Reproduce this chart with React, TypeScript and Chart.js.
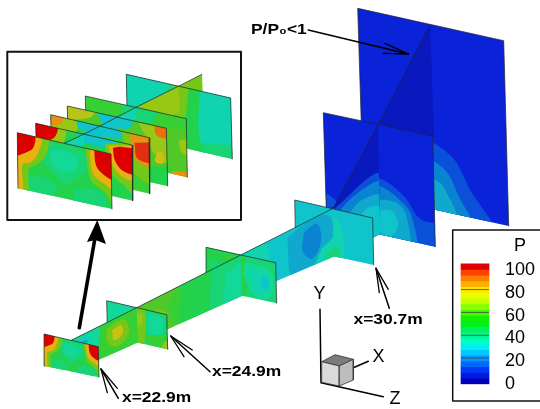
import React, { useEffect, useRef } from "react";
import {
  Chart, ScatterController, LineController, BarController,
  LineElement, PointElement, BarElement, LinearScale, Filler,
} from "chart.js";

type Blob = [number, number[]];

// ---- colour levels -------------------------------------------------------
const LEVEL_VALUES = [0,5,10,15,20,25,30,35,40,45,50,55,60,65,70,75,80,85,90,95,100];
const BAR_COLORS = ["#0000b8","#0018e0","#0038f8","#0068ff","#0098ff","#00c8ff","#00f0f0","#00ffc0","#00f890","#00f060","#00f020","#10f000","#48f800","#88ff00","#c8ff00","#e8ff00","#ffe800","#ffb000","#ff8000","#ff4000","#e00000"];
const FIELD_COLORS = ["#0a18c0","#0a22d8","#0a50d8","#0a84d0","#10a8cc","#10c4cc","#10d4b0","#12d89a","#18d474","#22d24c","#36d034","#50c828","#74c818","#98c814","#b8c418","#ccc014","#e8b010","#e89010","#e87010","#e03010","#dc0000"];
const color = (lv: number) => FIELD_COLORS[LEVEL_VALUES.indexOf(lv)];

// ---- main view: corners TL,TR,BR,BL --------------------------------------
const PANEL_BACK = [357.7,8.3, 503.7,40.7, 508.7,226, 363.5,194];
const PLANE_BACK = [378,125, 430,25, 434,136, 380,234];
const PANEL_MID = [323.3,112.7, 432.7,136, 435.3,246.7, 326.7,222.7];
const PLANE_MID = [333.3,208.3, 378,125, 380,234, 335,256];
const PANEL_FRONT = [294.7,200, 372.7,218, 373.7,265, 295.7,248];
const PLANE_A = [240.7,255, 333.3,208.3, 335,256, 241.7,296];
const PANEL_27 = [206,247.3, 275.7,262.7, 276.7,303.3, 206.7,288];
const PLANE_B = [136.7,307.7, 240.7,255, 241.7,296, 137.3,342.7];
const PANEL_249 = [106.7,300.7, 166.7,314.7, 167.7,349.3, 107.5,336];
const PLANE_C = [71.2,340.3, 136.7,307.7, 137.3,342.7, 71.8,371.7];
const PANEL_229 = [44,334, 98.3,346.7, 99,377.3, 44.7,366];

const BLOBS_BACK: Blob[] = [
  [10,[.45,.62,.63,.7,.74,.85,.92,1.08,.45,1.08]],
  [15,[.45,.72,.58,.78,.66,.9,.77,1.08,.45,1.08]],
  [20,[.45,.83,.55,.86,.66,1.08,.45,1.08]],
];
const BLOBS_PLANE_MID: Blob[] = [
  [10,[-.05,-.02,1.05,.47,1.05,1.1,-.05,1.1]],
  [15,[.0,.2,.5,.35,1.05,.55,1.05,1.1,0,1.1]],
  [20,[.2,.5,.6,.5,1.05,.67,1.05,1.1,.2,1.1]],
  [25,[.45,.72,.75,.66,1.05,.78,1.05,1.1,.4,1.1]],
];
const BLOBS_MID: Blob[] = [
  [10,[-.05,.72,.05,.75,.1,.8,.05,.85,-.05,.85]],
  [10,[.4,1.1,.45,.55,.51,.49,.72,.6,.87,.78,1.1,.8,1.1,1.1]],
  [15,[.45,1.1,.46,.6,.51,.56,.66,.63,.78,.75,.81,1.1]],
  [20,[.45,1.1,.46,.72,.51,.68,.66,.68,.74,.78,.75,1.1]],
  [25,[.45,.95,.48,.8,.6,.76,.66,.87,.58,1]],
];
const BLOBS_FRONT: Blob[] = [
  [20,[-.05,.6,.1,.5,.2,.8,.1,1.1,-.05,1.1]],
  [30,[.2,.3,.46,.15,.6,.4,.58,1.1,.25,1.1]],
  [40,[.44,.78,.5,.72,.56,.85,.55,1.1,.4,1.1]],
];
const BLOBS_A: Blob[] = [
  [30,[-.05,-.05,.25,-.05,.28,1.1,-.05,1.1]],
  [35,[-.05,.35,.1,.4,.12,1.1,-.05,1.1]],
  [20,[.5,.15,.7,.02,.95,.1,.98,.6,.85,1.1,.55,1.1]],
  [15,[.68,.2,.82,.15,.86,.55,.76,.85,.66,.6]],
  [30,[.86,.72,1.05,.6,1.05,1.1,.78,1.1]],
  [40,[.93,.85,1.05,.8,1.05,1.1,.9,1.1]],
];
const BLOBS_27: Blob[] = [
  [45,[-.05,-.05,.52,-.05,.52,1.1,-.05,1.1]],
  [40,[.05,.25,.2,.35,.25,.6,.1,.65]],
  [50,[.28,.1,.5,.1,.52,.55,.35,.5]],
  [35,[.56,.15,.92,.25,.92,.88,.7,.95,.54,.5]],
  [30,[.62,.3,.88,.38,.88,.78,.7,.82]],
  [25,[.8,.4,.88,.45,.88,.68,.78,.68]],
];
const BLOBS_B: Blob[] = [
  [55,[-.05,-.05,.4,-.05,.3,.4,.35,1.1,-.05,1.1]],
  [60,[.0,.5,.2,.35,.28,.55,.1,.95]],
  [45,[.44,-.05,.72,-.05,.7,1.1,.42,1.1]],
  [40,[.72,-.05,1.05,-.05,1.05,1.1,.72,1.1]],
  [35,[.85,.3,1.05,.2,1.05,1.1,.85,1.1]],
];
const BLOBS_249: Blob[] = [
  [35,[-.05,-.05,.4,-.05,.45,.5,-.05,.5]],
  [55,[.3,.2,.5,.15,.5,1.1,.3,1.1]],
  [60,[.47,-.05,.62,-.05,.64,.6,.58,1.1,.46,1.1]],
  [65,[.5,.15,.58,.15,.58,.45,.5,.45]],
  [35,[.68,.1,.92,.15,.9,.6,.72,.65]],
  [50,[.62,.75,.9,.65,1.05,.7,1.05,1.1,.72,1.1]],
  [65,[.94,.82,1.05,.75,1.05,1.1,.9,1.1]],
];
const BLOBS_C: Blob[] = [
  [35,[-.05,-.05,.4,-.05,.45,.4,.3,1.1,-.05,1.1]],
  [30,[.05,.1,.28,.1,.3,.7,.05,.9]],
  [20,[.16,.2,.24,.22,.23,.4,.15,.4]],
  [50,[.45,.0,.95,-.05,1.05,.6,.85,1.1,.5,1.1,.42,.5]],
  [60,[.54,.18,.8,.15,.88,.6,.7,.85,.55,.6]],
  [75,[.62,.3,.76,.28,.78,.55,.65,.62]],
];
const BLOBS_229: Blob[] = [
  [40,[.22,.06,.5,.03,.74,.12,.74,.38,.6,.62,.5,.74,.4,.62,.26,.38]],
  [35,[.35,.18,.5,.13,.64,.22,.62,.42,.5,.52,.38,.44]],
  [40,[.1,.75,.3,.7,.42,.85,.3,1.05,.1,1.05]],
  [40,[.6,.8,.8,.72,.93,.82,.9,1.05,.6,1.05]],
  [60,[-.05,-.05,.32,-.05,.3,.3,.2,.5,.12,.6,.1,1.1,-.05,1.1]],
  [80,[-.05,-.05,.25,-.05,.22,.28,.14,.48,.05,.55,.05,1.1,-.05,1.1]],
  [100,[-.05,-.05,.18,-.05,.17,.2,.09,.32,-.05,.42]],
  [60,[.72,-.05,1.05,-.05,1.05,.95,.92,.72,.78,.55]],
  [80,[.77,-.05,1.05,-.05,1.05,.66,.93,.58,.8,.42]],
  [100,[.82,-.05,1.05,-.05,1.05,.46,.93,.42,.84,.28]],
];

// ---- inset view ----------------------------------------------------------
const INSET_FRAME = [7.3,51.7, 241,51.7, 241,220, 7.3,220];
const SLICE_1 = [17.3,132.7, 111,154, 112,209, 18,188.3];
const SLICE_2 = [35.7,123.3, 132,145, 132.7,200.7, 37,179];
const SLICE_3 = [50.7,114.7, 149,137.7, 149.7,193.7, 52,171];
const SLICE_4 = [67.3,106, 166.3,128.3, 167.7,186, 68.6,164];
const SLICE_5 = [85.3,96, 186.3,118.7, 187.3,177.3, 86.6,155];
const SLICE_6 = [126.3,74.3, 230.7,98, 232.3,159, 127.6,135];
const INSET_PLANE_END = [178.5,86.2, 202,74.3, 202.7,91.7, 180,110];
const INSET_PLANE_56 = [135.8,107.4, 178.5,86.2, 180,110, 137,150];
const INSET_PLANE_45 = [116.8,117.2, 135.8,107.4, 137,150, 118,160];
const INSET_PLANE_34 = [99.9,126.2, 116.8,117.2, 118,160, 101,170];
const INSET_PLANE_23 = [83.8,134.2, 99.9,126.2, 101,170, 85,180];
const INSET_PLANE_12 = [64.2,143.3, 83.8,134.2, 85,180, 65,198];

const BLOBS_S2: Blob[] = [
  [25,[.42,-.05,.85,-.05,.78,.12,.6,.16,.45,.12]],
  [65,[-.05,-.05,.3,-.05,.28,.25,.15,.45,-.05,.6]],
  [100,[-.05,-.05,.22,-.05,.2,.16,.1,.28,-.05,.35]],
  [60,[.72,.08,1.05,.02,1.05,.9,.9,.75,.76,.55]],
  [80,[.76,.1,1.05,.05,1.05,.62,.88,.6,.79,.42]],
  [100,[.8,.13,.88,.08,1.05,.1,1.05,.5,.9,.5,.82,.35]],
];
const BLOBS_S3: Blob[] = [
  [65,[-.05,-.05,.25,-.05,.25,.2,-.05,.3]],
  [85,[-.05,-.05,.12,-.05,.1,.12,-.05,.18]],
  [25,[.25,-.05,.72,-.05,.7,.14,.3,.14]],
  [60,[.72,0,1.05,-.05,1.05,.8,.85,.7,.76,.3]],
  [85,[.8,.02,1.05,-.05,1.05,.5,.86,.45]],
  [95,[.85,.15,1.05,.1,1.05,.42,.88,.42]],
];
const BLOBS_S4: Blob[] = [
  [70,[-.05,-.05,.28,-.05,.22,.12,-.05,.22]],
  [25,[.3,-.05,.65,-.05,.62,.15,.35,.15]],
  [65,[.7,-.05,1.05,-.05,1.05,.6,.88,.5,.78,.2]],
  [90,[.88,-.05,1.05,-.05,1.05,.16,.9,.16]],
  [75,[.9,.45,.96,.45,.96,.62,.88,.62]],
  [45,[.78,.72,1.05,.72,1.05,1.1,.78,1.1]],
];
const BLOBS_S5: Blob[] = [
  [40,[.35,-.05,.7,-.05,.65,.2,.4,.2]],
  [55,[.75,.3,.9,.2,1.05,.3,1.05,.9,.85,.9]],
  [65,[.92,.4,1.05,.35,1.05,.6,.95,.6]],
  [85,[.85,.95,1.05,.92,1.05,1.1,.85,1.1]],
];
const BLOBS_S6: Blob[] = [
  [30,[-.05,-.05,.3,-.05,.42,.4,.35,.75,.15,.8,-.05,.8]],
  [40,[.42,-.05,.5,.4,.45,1.1,.3,1.1,.28,.8]],
  [60,[.46,-.05,.62,-.05,.62,.55,.52,.8,.46,.45]],
  [45,[.6,-.05,.72,-.05,.72,1.1,.55,1.1]],
  [30,[.7,-.05,1.05,-.05,1.05,.85,.72,.9]],
  [40,[.72,.85,1.05,.8,1.05,1.1,.72,1.1]],
];

// ---- colour-bar ----------------------------------------------------------
const BAR_X = 475;
const BAR_SEPARATORS = [20, 40, 60, 80];
const BAR_LABELS = ["100","80","60","40","20","0"];
const BAR_LABEL_Y = [270,293,316,338,361,384];

// ---- axes triad and arrows ----------------------------------------------
const TRIAD_AXES = [320,309.3, 321,382.7, 383.3,396.7];
const TRIAD_X = [353.3,367.7, 368.3,361.3];
const CUBE_TOP = [321.7,361.7, 335,354.7, 353.3,359.3, 339.3,366];
const CUBE_FRONT = [321.7,361.7, 339.3,366, 339.3,386, 321.7,382.3];
const CUBE_SIDE = [339.3,366, 353.3,359.3, 353.3,380, 339.3,386];

const ARROW_BIG_SHAFT = [79.3,327.7, 95,238];
const ARROW_BIG_HEAD = [97.3,220, 106,244, 95.5,240, 87,242];
const ARROW_P = [308.3,30, 408.3,54];
const ARROW_P_HEAD = [385,43.3, 408.3,54, 383.3,53.3];
const ARROW_229 = [118.3,398.3, 101,369];
const ARROW_229_HEAD = [117.3,388.3, 101,369, 107.3,392.7];
const ARROW_249 = [210,371.7, 170.7,336];
const ARROW_249_HEAD = [192.3,350, 170.7,336, 184,356.7];
const ARROW_307 = [389.3,308.3, 376,268.3];
const ARROW_307_HEAD = [388.3,289.3, 376,268.3, 379.3,292.7];
const LEGEND_BOX = [452.7,230, 541,230, 541,401, 452.7,401];

const BOLD_LABELS: [string, number, number][] = [
  ["P/P\u2080<1", 251, 30],
  ["x=22.9m", 122, 398],
  ["x=24.9m", 212, 372],
  ["x=30.7m", 353.5, 320],
];
const TRIAD_LABELS: [string, number, number][] = [["Y", 319.5, 294], ["X", 378.5, 357], ["Z", 395, 399]];

// ---- helpers -------------------------------------------------------------
const pts = (a: number[]) => {
  const r: { x: number; y: number }[] = [];
  for (let i = 0; i < a.length; i += 2) r.push({ x: a[i], y: a[i + 1] });
  return r;
};
const closed = (a: number[]) => pts([...a, a[0], a[1]]);
const mapUV = (c: number[], u: number, v: number) => {
  const tx = c[0] + (c[2] - c[0]) * u, ty = c[1] + (c[3] - c[1]) * u;
  const bx = c[6] + (c[4] - c[6]) * u, by = c[7] + (c[5] - c[7]) * u;
  return { x: tx + (bx - tx) * v, y: ty + (by - ty) * v };
};
const base = { type: "line" as const, pointRadius: 0, pointHoverRadius: 0 };
const shape = (a: number[], fill: string, stroke = "rgba(0,0,0,0)", w = 0) => ({
  ...base, data: closed(a), fill: "shape", backgroundColor: fill, borderColor: stroke, borderWidth: w, tension: 0,
});
const stroke = (a: number[], c: string, w: number) => ({
  ...base, data: pts(a), fill: false, borderColor: c, borderWidth: w, tension: 0, borderCapStyle: "round", borderJoinStyle: "round",
});
const fields = (c: number[], lv: number, blobs: Blob[]) => {
  const out: any[] = [shape(c, color(lv))];
  for (const [l, uv] of blobs) {
    const p: { x: number; y: number }[] = [];
    for (let i = 0; i < uv.length; i += 2) p.push(mapUV(c, uv[i], uv[i + 1]));
    out.push({ ...base, data: [...p, p[0]], fill: "shape", backgroundColor: color(l), borderWidth: 0, tension: 0.35, clipTo: c });
  }
  return out;
};
// a cross-section: outlined on the top and both sides, open at the bottom
const panel = (c: number[], lv: number, blobs: Blob[]) => [
  ...fields(c, lv, blobs),
  stroke([c[6], c[7], c[0], c[1], c[2], c[3], c[4], c[5]], "#1c2430", 0.7),
];
// the lengthwise plane: only its top edge is outlined
const plane = (c: number[], lv: number, blobs: Blob[]) => [
  ...fields(c, lv, blobs),
  stroke([c[0], c[1], c[2], c[3]], "#1c2430", 0.7),
];

const buildDatasets = () => {
  const back: any[] = [
    ...panel(PANEL_BACK, 5, BLOBS_BACK),
    ...plane(PLANE_BACK, 0, []),
    ...panel(PANEL_MID, 5, BLOBS_MID),
    ...plane(PLANE_MID, 0, BLOBS_PLANE_MID),
    ...panel(PANEL_FRONT, 25, BLOBS_FRONT),
    ...plane(PLANE_A, 25, BLOBS_A),
    ...panel(PANEL_27, 40, BLOBS_27),
    ...plane(PLANE_B, 50, BLOBS_B),
    ...panel(PANEL_249, 40, BLOBS_249),
    ...plane(PLANE_C, 45, BLOBS_C),
    ...panel(PANEL_229, 45, BLOBS_229),
    stroke(INSET_FRAME.concat(INSET_FRAME[0], INSET_FRAME[1]), "#111", 2),
    ...plane(INSET_PLANE_END, 60, []),
    ...panel(SLICE_6, 35, BLOBS_S6),
    ...plane(INSET_PLANE_56, 65, []),
    ...panel(SLICE_5, 50, BLOBS_S5),
    ...plane(INSET_PLANE_45, 30, []),
    ...panel(SLICE_4, 55, BLOBS_S4),
    ...plane(INSET_PLANE_34, 25, []),
    ...panel(SLICE_3, 50, BLOBS_S3),
    ...plane(INSET_PLANE_23, 25, []),
    ...panel(SLICE_2, 45, BLOBS_S2),
    ...plane(INSET_PLANE_12, 30, []),
    ...panel(SLICE_1, 45, BLOBS_229),
    stroke(ARROW_BIG_SHAFT, "#000", 3.6),
    shape(ARROW_BIG_HEAD, "#000"),
    stroke(ARROW_P, "#000", 1.7), stroke(ARROW_P_HEAD, "#000", 1.3),
    stroke(ARROW_229, "#000", 1.5), stroke(ARROW_229_HEAD, "#000", 1.3),
    stroke(ARROW_249, "#000", 1.5), stroke(ARROW_249_HEAD, "#000", 1.3),
    stroke(ARROW_307, "#000", 1.5), stroke(ARROW_307_HEAD, "#000", 1.3),
    stroke(TRIAD_AXES, "#000", 1.5), stroke(TRIAD_X, "#000", 1.5),
    shape(CUBE_TOP, "#7c7c7c", "#333", 0.8),
    shape(CUBE_FRONT, "#dadada", "#333", 0.8),
    shape(CUBE_SIDE, "#bdbdbd", "#333", 0.8),
    stroke(LEGEND_BOX.concat(LEGEND_BOX[0], LEGEND_BOX[1]), "#111", 1.5),
    {
      type: "bar", yAxisID: "yl", barThickness: 28, borderWidth: 0,
      data: LEVEL_VALUES.map((v) => ({ x: BAR_X, y: [v - 2.5, v + 2.5] })),
      backgroundColor: BAR_COLORS,
    },
    ...BAR_SEPARATORS.map((v) => ({
      ...base, yAxisID: "yl", data: [{ x: BAR_X - 14, y: v }, { x: BAR_X + 14, y: v }],
      fill: false, borderColor: "#444", borderWidth: 0.8, tension: 0,
    })),
  ];
  return back.reverse(); // first dataset is painted last
};

const polygonClip = {
  id: "polygonClip",
  beforeDatasetDraw(chart: any, args: any) {
    const c = chart.data.datasets[args.index].clipTo;
    if (!c) return;
    const { ctx, scales } = chart;
    ctx.save();
    ctx.beginPath();
    for (let i = 0; i < c.length; i += 2) {
      const px = scales.x.getPixelForValue(c[i]), py = scales.y.getPixelForValue(c[i + 1]);
      if (i === 0) ctx.moveTo(px, py); else ctx.lineTo(px, py);
    }
    ctx.closePath();
    ctx.clip();
  },
  afterDatasetDraw(chart: any, args: any) {
    if (chart.data.datasets[args.index].clipTo) chart.ctx.restore();
  },
};

const textLayer = {
  id: "textLayer",
  afterDatasetsDraw(chart: any) {
    const { ctx, scales } = chart;
    const X = (v: number) => scales.x.getPixelForValue(v);
    const Y = (v: number) => scales.y.getPixelForValue(v);
    ctx.save();
    ctx.fillStyle = "#000";
    ctx.textBaseline = "middle";
    ctx.textAlign = "left";
    ctx.font = 'bold 15px "Liberation Sans"';
    for (const [t, x, y] of BOLD_LABELS) {
      ctx.save();
      ctx.translate(X(x), Y(y));
      ctx.scale(1.16, 1);
      ctx.fillText(t, 0, 0);
      ctx.restore();
    }
    ctx.font = '18px "Liberation Sans"';
    BAR_LABELS.forEach((t, i) => ctx.fillText(t, X(505), Y(BAR_LABEL_Y[i])));
    ctx.textAlign = "center";
    ctx.fillText("P", X(520), Y(246));
    for (const [t, x, y] of TRIAD_LABELS) ctx.fillText(t, X(x), Y(y));
    ctx.restore();
  },
};

// the clip has to open before the Filler paints, so it is registered first
Chart.register(polygonClip, ScatterController, LineController, BarController, LineElement, PointElement, BarElement, LinearScale, Filler);

export default function App() {
  const ref = useRef<HTMLCanvasElement>(null);
  useEffect(() => {
    document.body.style.margin = "0";
    const chart = new Chart(ref.current as HTMLCanvasElement, {
      type: "scatter",
      data: { datasets: buildDatasets() },
      options: {
        animation: false, responsive: false, devicePixelRatio: 1, events: [],
        layout: { padding: 0 },
        scales: {
          x: { type: "linear", min: 0, max: 540, display: false, offset: false },
          y: { type: "linear", min: 0, max: 409, reverse: true, display: false },
          yl: { type: "linear", min: -24.5, max: 333.3, display: false },
        },
      },
      plugins: [textLayer],
    } as any);
    return () => chart.destroy();
  }, []);
  return (
    <div style={{ position: "absolute", left: 0, top: 0, width: 540, height: 409, background: "#fff" }}>
      <canvas ref={ref} width={540} height={409} style={{ display: "block" }} />
    </div>
  );
}
